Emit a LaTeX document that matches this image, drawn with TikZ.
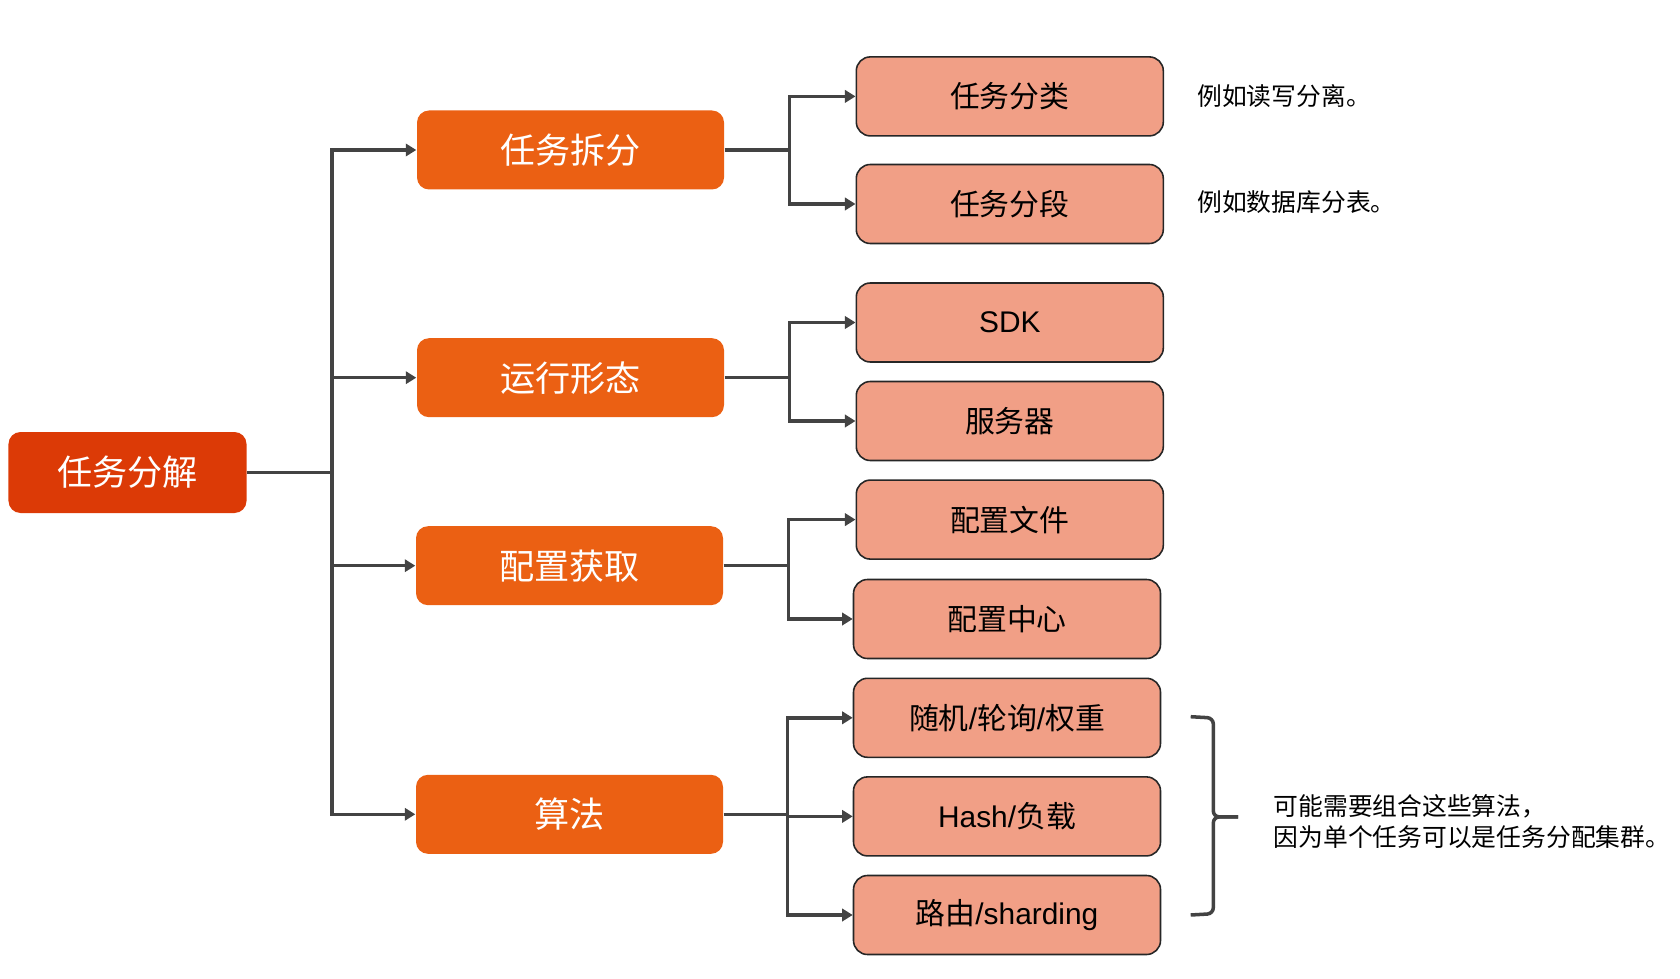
\documentclass[tikz,border=0pt]{standalone}
\usepackage{fontspec}
\setmainfont{Liberation Sans}
\newfontfamily\cjk{Noto Sans CJK SC}
\newcommand{\zh}[1]{{\cjk #1}}
\usetikzlibrary{arrows.meta}
\definecolor{rootred}{HTML}{DC3A06}
\definecolor{midorange}{HTML}{EB6013}
\definecolor{leafpink}{HTML}{F19F86}
\definecolor{linegray}{HTML}{434343}
\begin{document}
\begin{tikzpicture}[
  rootbox/.style={fill=rootred,rounded corners=0.12cm,minimum width=2.38cm,minimum height=0.81cm,inner sep=0pt,text=white,font=\fontsize{10pt}{12pt}\selectfont\cjk},
  midbox/.style={fill=midorange,rounded corners=0.12cm,minimum width=3.07cm,minimum height=0.79cm,inner sep=0pt,text=white,font=\fontsize{10pt}{12pt}\selectfont\cjk},
  leafbox/.style={fill=leafpink,draw=black!85,line width=0.45pt,rounded corners=0.14cm,minimum width=3.07cm,minimum height=0.79cm,inner sep=0pt,text=black,font=\fontsize{8.5pt}{10pt}\selectfont},
  note/.style={anchor=west,inner sep=0pt,align=left,font=\fontsize{7.05pt}{8.9pt}\selectfont\cjk},
  link/.style={draw=linegray,line width=1pt},
  arr/.style={link,-{Triangle[length=3pt,width=3.5pt]}}
]
\useasboundingbox (0,0) rectangle (16.8,9.78);
\node[rootbox](R) at (1.275,5.055){任务分解};
\node[midbox](A1) at (5.705,8.28){任务拆分};
\node[midbox](A2) at (5.705,6.003){运行形态};
\node[midbox](A3) at (5.695,4.123){配置获取};
\node[midbox](A4) at (5.695,1.637){算法};
\coordinate (T0) at (3.32,5.055);
\draw[link] (R.east) -- (T0);
\draw[arr] (T0) |- (A1.west);
\draw[arr] (T0) |- (A2.west);
\draw[arr] (T0) |- (A3.west);
\draw[arr] (T0) |- (A4.west);
% split
\node[leafbox](B1) at (10.098,8.816){\zh{任务分类}};
\node[leafbox](B2) at (10.098,7.74){\zh{任务分段}};
\coordinate (J1) at (7.896,8.28);
\draw[link] (A1.east) -- (J1);
\draw[arr] (J1) |- (B1.west);
\draw[arr] (J1) |- (B2.west);
\node[note](N1) at (11.967,8.816){例如读写分离。};
\node[note](N2) at (11.967,7.755){例如数据库分表。};
% runtime
\node[leafbox](B3) at (10.098,6.555){SDK};
\node[leafbox](B4) at (10.098,5.57){\zh{服务器}};
\coordinate (J2) at (7.896,6.003);
\draw[link] (A2.east) -- (J2);
\draw[arr] (J2) |- (B3.west);
\draw[arr] (J2) |- (B4.west);
% config
\node[leafbox](B5) at (10.098,4.584){\zh{配置文件}};
\node[leafbox](B6) at (10.07,3.59){\zh{配置中心}};
\coordinate (J3) at (7.885,4.123);
\draw[link] (A3.east) -- (J3);
\draw[arr] (J3) |- (B5.west);
\draw[arr] (J3) |- (B6.west);
% algorithm
\node[leafbox](B7) at (10.07,2.602){\zh{随机}/\zh{轮询}/\zh{权重}};
\node[leafbox](B8) at (10.07,1.616){Hash/\zh{负载}};
\node[leafbox](B9) at (10.07,0.63){\zh{路由}/sharding};
\coordinate (J4) at (7.875,1.637);
\draw[link] (A4.east) -- (J4);
\draw[arr] (J4) |- (B7.west);
\draw[arr] (J4) |- (B8.west);
\draw[arr] (J4) |- (B9.west);
% brace
\draw[link,rounded corners=0.06cm] (11.907,2.613) -- (12.133,2.60) -- (12.133,1.611) -- (12.38,1.611);
\draw[link,rounded corners=0.06cm] (11.907,0.63) -- (12.133,0.643) -- (12.133,1.611) -- (12.38,1.611);
\node[note](N3) at (12.73,1.567){可能需要组合这些算法，\\因为单个任务可以是任务分配集群。};
\end{tikzpicture}
\end{document}
